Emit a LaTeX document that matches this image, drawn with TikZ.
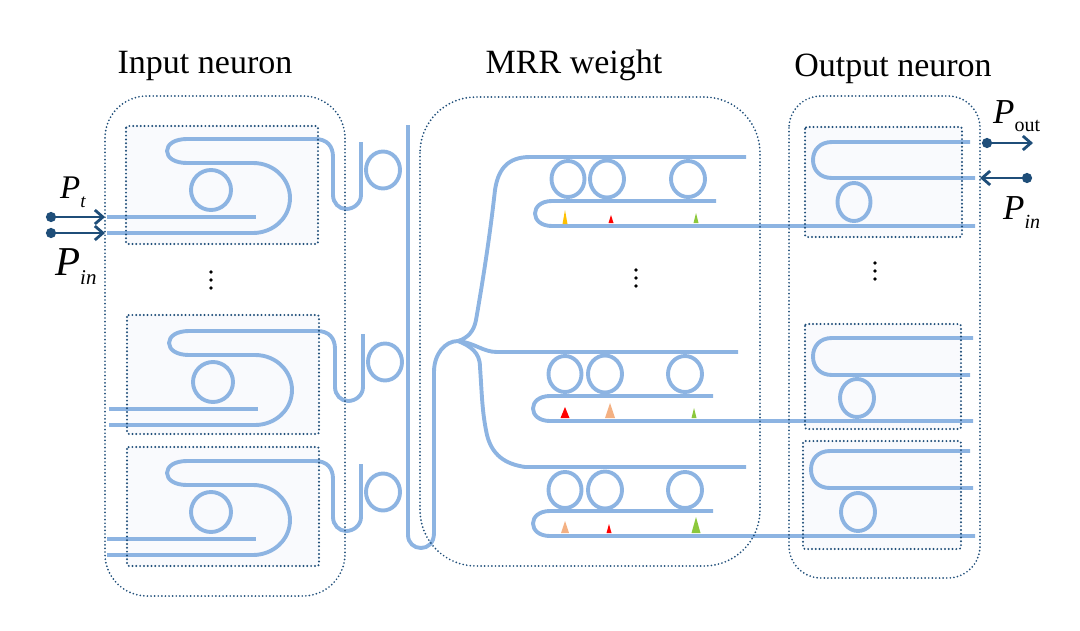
\documentclass[tikz,border=0pt]{standalone}
\usepackage{fontspec}
\setmainfont{Liberation Serif}
\usetikzlibrary{arrows.meta}
\definecolor{guide}{HTML}{8DB4E2}
\definecolor{navy}{HTML}{1F4E79}
\definecolor{panel}{HTML}{F9FAFD}
\definecolor{tyellow}{HTML}{FFC000}
\definecolor{tred}{HTML}{FF0000}
\definecolor{tpeach}{HTML}{F4B183}
\definecolor{tgreen}{HTML}{8CC83C}
\tikzset{
  wg/.style={draw=guide,line width=3.9pt,line join=round},
  outerbox/.style={draw=navy,line width=1.9pt,line cap=round,dash pattern=on 0pt off 3.6pt},
  innerbox/.style={draw=navy,line width=2.2pt,line cap=round,dash pattern=on 0pt off 3.8pt,rounded corners=2pt},
  sig/.style={draw=navy,line width=2.8pt,{Circle[length=10pt,width=10pt]}-{Straight Barb[length=8pt,width=14pt,line width=2.8pt]}},
  title/.style={anchor=base,font=\fontsize{34}{34}\selectfont,inner sep=0pt},
  lab/.style={anchor=base west,inner sep=0pt},
  dotmark/.style={fill=black,draw=none}
}
\newcommand{\ringat}[4]{\draw[wg] (#1,#2) ellipse [x radius=#3pt,y radius=#4pt];}
\newcommand{\tickat}[5]{\fill[#5] (#1-#4/2,#3) -- (#1,#2) -- (#1+#4/2,#3) -- cycle;}
\newcommand{\vdotsat}[3]{\foreach \yy in {#2,#3}{\fill[dotmark] (#1,\yy) circle (1.8pt);}}
\newcommand{\inunit}[2]{%
 \begin{scope}[shift={(#1,#2)}]
  \ringat{211}{190}{20}{20}
  \ringat{383}{170}{17}{18.5}
  \draw[wg] (107,217) -- (256,217);
  \draw[wg] (361,142) -- (361,195) .. controls (361,203) and (354,209) .. (346,209)
    .. controls (339,209) and (333,203) .. (333,195) -- (333,157)
    .. controls (333,146) and (327,139) .. (315,139) -- (187,139)
    .. controls (175,139) and (167,144) .. (167,151)
    .. controls (167,158) and (175,163) .. (187,163) -- (253,163)
    .. controls (275,163) and (290,180) .. (290,198)
    .. controls (290,218) and (273,233) .. (253,233) -- (107,233);
 \end{scope}}
% ring row: y-of-rings, x1,x2,x3, lower-guide y1, y2, right end, left extreme
\newcommand{\ringrow}[9]{%
  \ringat{#2}{#1}{16.5}{18}\ringat{#3}{#1}{17}{18.5}\ringat{#4}{#1}{17}{18}
  \draw[wg] (#7,#5) -- (#8+17,#5) .. controls (#8+6,#5) and (#8,#5+6) .. (#8,#5+12.5)
    .. controls (#8,#6-6) and (#8+6,#6) .. (#8+17,#6) -- (#9,#6);}
% output unit: top y, lower y, left x, top end, lower end
\newcommand{\outunit}[5]{%
  \draw[wg] (#4,#1) -- (#3+19,#1)
    .. controls (#3+7,#1) and (#3,#1+8) .. (#3,#1/2+#2/2)
    .. controls (#3,#2-8) and (#3+7,#2) .. (#3+19,#2) -- (#5,#2);}
% label: P size, sub size, kern, drop, sub text
\newcommand{\plabel}[5]{{\fontsize{#1}{#1}\selectfont\itshape P}\kern#3pt\raisebox{-#4pt}{\fontsize{#2}{#2}\selectfont #5}}
\begin{document}
\begin{tikzpicture}[x=1pt,y=-1pt]
\useasboundingbox (0,0) rectangle (1080,630);
% panels
\fill[panel] (126,126) rectangle (318,244);
\fill[panel] (127,315) rectangle (319,434);
\fill[panel] (127,447) rectangle (319,566);
\fill[panel] (805,127) rectangle (962,237);
\fill[panel] (805,324) rectangle (961,429);
\fill[panel] (803,441) rectangle (961,549);
% input neurons
\inunit{0}{0}
\inunit{2}{192}
\inunit{0}{322}
% bus and splitter
\draw[wg] (408,125) -- (408,535) .. controls (408,543) and (414,548) .. (421,548)
  .. controls (428,548) and (434,543) .. (434,533) -- (434,372)
  .. controls (434,354) and (445,341) .. (458,341)
  .. controls (470,346) and (480,352) .. (480,367)
  .. controls (482,395) and (482,412) .. (487,435)
  .. controls (492,455) and (505,464) .. (525,467) -- (746,467);
\draw[wg] (458,341) .. controls (475,343) and (483,352) .. (497,352) -- (738,352);
\draw[wg] (458,341) .. controls (468,338) and (474,331) .. (476,320)
  .. controls (483,280) and (490,235) .. (495,190)
  .. controls (498,170) and (507,157) .. (530,157) -- (746,157);
% MRR rows
\ringrow{179}{568}{607}{688}{201}{226}{716}{535}{975}
\ringrow{374}{565}{605}{685}{396}{421}{713}{533}{973}
\ringrow{490}{565}{605}{685}{511}{536}{713}{533}{975}
% weight markers
\tickat{565}{210}{224}{5}{tyellow}
\tickat{611}{215}{223}{5}{tred}
\tickat{696}{213}{223}{5}{tgreen}
\tickat{565}{407}{418}{9}{tred}
\tickat{610}{403}{418}{10}{tpeach}
\tickat{694}{408}{418}{5}{tgreen}
\tickat{565}{521}{533}{8}{tpeach}
\tickat{609}{524}{533}{5}{tred}
\tickat{696}{517}{533}{9}{tgreen}
% output neurons
\outunit{142}{178}{813}{970}{975}
\ringat{854}{202}{16.5}{19}
\outunit{338}{375}{813}{973}{970}
\ringat{857}{398}{17}{19}
\outunit{451}{488}{811}{970}{973}
\ringat{858}{512}{17}{19}
% dotted frames
\draw[outerbox,rounded corners=42pt] (105,96) rectangle (345,596);
\draw[outerbox,rounded corners=56pt] (420,97) rectangle (760,566);
\draw[outerbox,rounded corners=32pt] (789,96) rectangle (980,578);
\draw[innerbox] (126,126) rectangle (318,244);
\draw[innerbox] (127,315) rectangle (319,434);
\draw[innerbox] (127,447) rectangle (319,566);
\draw[innerbox] (805,127) rectangle (962,237);
\draw[innerbox] (805,324) rectangle (961,429);
\draw[innerbox] (803,441) rectangle (961,549);
% vertical dots
\vdotsat{211}{272,280}{288}
\vdotsat{636}{270,278}{286}
\vdotsat{875}{263,271}{279}
% arrows
\coordinate (ptA) at (46,217); \coordinate (ptB) at (105,217);
\coordinate (piA) at (46,233); \coordinate (piB) at (105,233);
\coordinate (poA) at (982,143); \coordinate (poB) at (1033,143);
\coordinate (prA) at (1032,178); \coordinate (prB) at (980,178);
\draw[sig] (ptA) -- (ptB);
\draw[sig] (piA) -- (piB);
\draw[sig] (poA) -- (poB);
\draw[sig] (prA) -- (prB);
% titles
\node[title] (tIn) at (205,73) {Input neuron};
\node[title] (tMrr) at (574,73) {MRR weight};
\node[title] (tOut) at (893,76) {Output neuron};
% signal labels
\node[lab] (lP1) at (60,198) {\plabel{33}{19}{0}{9}{\itshape t}};
\node[lab] (lP2) at (55,275) {\plabel{41}{21}{0}{9}{\itshape in}};
\node[lab] (lP3) at (993,123) {\plabel{35}{20}{0}{8}{out}};
\node[lab] (lP4) at (1003,219) {\plabel{35}{20}{0}{9}{\itshape in}};
\end{tikzpicture}
\end{document}
